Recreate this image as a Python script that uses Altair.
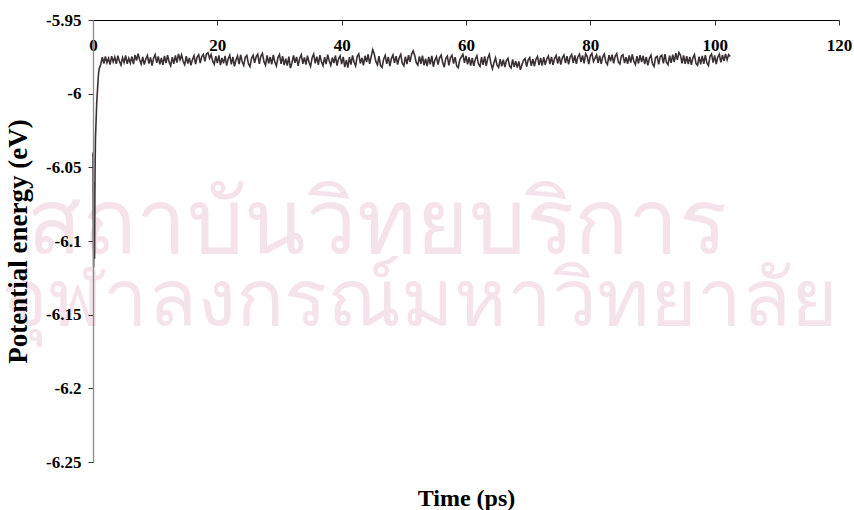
import altair as alt
import numpy as np
import pandas as pd

# Equilibration start: fast relaxation from the initial configuration
time_start = [0.00, 0.05, 0.10, 0.15, 0.20, 0.25, 0.30, 0.35, 0.40, 0.50, 0.60, 0.70, 0.80, 0.90]
energy_start = [-6.040, -6.085, -6.118, -6.095, -6.060, -6.112, -6.070, -6.045, -6.030,
                -6.018, -6.006, -5.999, -5.992, -5.986]

# Production run, sampled every 0.25 ps from 1.0 ps
main_t0 = 1.0
main_dt = 0.25
energy_main = [
    -5.9830, -5.9800, -5.9752, -5.9795, -5.9748, -5.9790, -5.9760, -5.9803, -5.9745, -5.9785,
    -5.9752, -5.9798, -5.9742, -5.9781, -5.9806, -5.9755, -5.9788, -5.9740, -5.9797, -5.9760,
    -5.9792, -5.9748, -5.9800, -5.9738, -5.9775, -5.9728, -5.9770, -5.9799, -5.9750, -5.9802,
    -5.9765, -5.9741, -5.9796, -5.9754, -5.9809, -5.9760, -5.9735, -5.9790, -5.9747, -5.9801,
    -5.9758, -5.9805, -5.9744, -5.9793, -5.9739, -5.9786, -5.9811, -5.9752, -5.9797, -5.9741,
    -5.9789, -5.9730, -5.9770, -5.9737, -5.9782, -5.9804, -5.9746, -5.9795, -5.9757, -5.9808,
    -5.9768, -5.9742, -5.9800, -5.9751, -5.9736, -5.9792, -5.9748, -5.9733, -5.9781, -5.9729,
    -5.9722, -5.9760, -5.9735, -5.9779, -5.9800, -5.9745, -5.9793, -5.9740, -5.9806, -5.9758,
    -5.9794, -5.9743, -5.9810, -5.9763, -5.9738, -5.9801, -5.9750, -5.9814, -5.9772, -5.9744,
    -5.9799, -5.9736, -5.9785, -5.9808, -5.9752, -5.9741, -5.9796, -5.9816, -5.9761, -5.9739,
    -5.9790, -5.9749, -5.9732, -5.9797, -5.9746, -5.9727, -5.9783, -5.9807, -5.9740, -5.9795,
    -5.9751, -5.9801, -5.9737, -5.9786, -5.9812, -5.9755, -5.9734, -5.9798, -5.9745, -5.9806,
    -5.9762, -5.9809, -5.9748, -5.9826, -5.9793, -5.9740, -5.9790, -5.9750, -5.9811, -5.9759,
    -5.9736, -5.9797, -5.9754, -5.9803, -5.9742, -5.9788, -5.9815, -5.9756, -5.9731, -5.9794,
    -5.9749, -5.9805, -5.9739, -5.9784, -5.9810, -5.9753, -5.9799, -5.9735, -5.9778, -5.9807,
    -5.9755, -5.9792, -5.9741, -5.9809, -5.9764, -5.9744, -5.9800, -5.9750, -5.9820, -5.9771,
    -5.9823, -5.9752, -5.9803, -5.9740, -5.9787, -5.9812, -5.9747, -5.9730, -5.9795, -5.9758,
    -5.9808, -5.9743, -5.9785, -5.9734, -5.9797, -5.9749, -5.9702, -5.9733, -5.9781, -5.9804,
    -5.9746, -5.9810, -5.9822, -5.9766, -5.9740, -5.9798, -5.9751, -5.9813, -5.9762, -5.9737,
    -5.9791, -5.9745, -5.9802, -5.9756, -5.9733, -5.9794, -5.9811, -5.9748, -5.9799, -5.9739,
    -5.9784, -5.9731, -5.9710, -5.9741, -5.9790, -5.9806, -5.9747, -5.9797, -5.9742, -5.9808,
    -5.9763, -5.9813, -5.9750, -5.9801, -5.9743, -5.9817, -5.9771, -5.9749, -5.9803, -5.9757,
    -5.9738, -5.9789, -5.9820, -5.9761, -5.9745, -5.9808, -5.9755, -5.9740, -5.9796, -5.9752,
    -5.9812, -5.9824, -5.9770, -5.9750, -5.9732, -5.9791, -5.9744, -5.9800, -5.9753, -5.9809,
    -5.9758, -5.9812, -5.9766, -5.9743, -5.9799, -5.9815, -5.9752, -5.9804, -5.9747, -5.9811,
    -5.9760, -5.9733, -5.9793, -5.9830, -5.9790, -5.9757, -5.9806, -5.9822, -5.9765, -5.9815,
    -5.9770, -5.9819, -5.9775, -5.9760, -5.9812, -5.9826, -5.9768, -5.9818, -5.9779, -5.9823,
    -5.9781, -5.9838, -5.9806, -5.9774, -5.9762, -5.9817, -5.9771, -5.9755, -5.9811, -5.9764,
    -5.9814, -5.9767, -5.9748, -5.9806, -5.9758, -5.9810, -5.9752, -5.9804, -5.9763, -5.9744,
    -5.9799, -5.9750, -5.9805, -5.9761, -5.9741, -5.9796, -5.9747, -5.9803, -5.9756, -5.9738,
    -5.9793, -5.9745, -5.9801, -5.9752, -5.9734, -5.9790, -5.9741, -5.9797, -5.9749, -5.9732,
    -5.9786, -5.9740, -5.9795, -5.9729, -5.9748, -5.9800, -5.9743, -5.9726, -5.9782, -5.9760,
    -5.9737, -5.9790, -5.9742, -5.9798, -5.9750, -5.9731, -5.9787, -5.9803, -5.9739, -5.9780,
    -5.9735, -5.9794, -5.9745, -5.9728, -5.9784, -5.9799, -5.9744, -5.9736, -5.9793, -5.9752,
    -5.9798, -5.9741, -5.9789, -5.9733, -5.9781, -5.9802, -5.9746, -5.9795, -5.9738, -5.9786,
    -5.9743, -5.9800, -5.9751, -5.9808, -5.9760, -5.9739, -5.9797, -5.9815, -5.9755, -5.9747,
    -5.9801, -5.9749, -5.9740, -5.9795, -5.9732, -5.9788, -5.9803, -5.9742, -5.9791, -5.9736,
    -5.9785, -5.9725, -5.9770, -5.9720, -5.9739, -5.9794, -5.9741, -5.9798, -5.9746, -5.9800,
    -5.9750, -5.9804, -5.9757, -5.9735, -5.9796, -5.9807, -5.9748, -5.9801, -5.9744, -5.9797,
    -5.9739, -5.9792, -5.9809, -5.9747, -5.9731, -5.9789, -5.9740, -5.9800, -5.9752, -5.9733,
    -5.9788, -5.9738, -5.9779, -5.9730, -5.9770, -5.9735, -5.9748,
]

x_ticks = [0, 20, 40, 60, 80, 100, 120]
y_ticks = [-6.25, -6.2, -6.15, -6.1, -6.05, -6.0, -5.95]

time_main = list(main_t0 + main_dt * np.arange(len(energy_main)))
df = pd.DataFrame({
    "t": list(time_start) + time_main,
    "e": list(energy_start) + energy_main,
})

W, H = 746, 442
FONT = "Liberation Serif"

# Pale watermark text behind the plot (pixel positions inside the plot area)
wm_text = ["สถาบันวิทยบริการ", "จุฬาลงกรณ์มหาวิทยาลัย"]
wm_px = [284.0, 326.0]
wm_py = [206.0, 282.0]
wm_size = [90, 80]
wm = pd.DataFrame({"txt": wm_text, "px": wm_px, "py": wm_py, "fs": wm_size})
watermark = alt.Chart(wm).mark_text(
    font="Noto Sans", color="#f5e3eb", align="center", baseline="middle"
).encode(
    x=alt.X("px:Q", scale=None, axis=None),
    y=alt.Y("py:Q", scale=None, axis=None),
    size=alt.Size("fs:Q", scale=None, legend=None),
    text="txt:N",
)

line = alt.Chart(df).mark_line(color="#3a3034", strokeWidth=1.6).encode(
    x=alt.X(
        "t:Q",
        scale=alt.Scale(domain=[0, 120], nice=False, zero=False),
        axis=alt.Axis(
            orient="bottom", offset=-H, values=x_ticks, grid=False, zindex=1,
            domainColor="#000000", domainWidth=1, tickColor="#333333", tickSize=5,
            labelFont=FONT, labelFontWeight="bold", labelFontSize=17, labelColor="#000000",
            labelPadding=12, labelFlush=False, labelOverlap=False,
            title="Time (ps)", titleFont=FONT, titleFontWeight="bold", titleFontSize=24,
            titleColor="#000000", titleX=W / 2, titleY=478, titleBaseline="middle",
            titleAnchor="middle",
        ),
    ),
    y=alt.Y(
        "e:Q",
        scale=alt.Scale(domain=[-6.25, -5.95], nice=False, zero=False),
        axis=alt.Axis(
            values=y_ticks, grid=False, zindex=1, labelExpr="'' + datum.value",
            domainColor="#8a8a8a", domainWidth=1.3, tickColor="#333333", tickSize=5,
            labelFont=FONT, labelFontWeight="bold", labelFontSize=17, labelColor="#000000",
            labelPadding=7, labelFlush=False, labelOverlap=False,
            title="Potential energy (eV)", titleFont=FONT, titleFontWeight="bold",
            titleFontSize=27, titleColor="#000000", titleAngle=270,
            titleX=-75, titleY=H / 2, titleBaseline="middle", titleAnchor="middle",
        ),
    ),
)

chart = alt.layer(watermark, line).properties(
    width=W,
    height=H,
    autosize=alt.AutoSizeParams(type="none"),
    padding={"left": 93, "top": 20, "right": 15, "bottom": 48},
    background="#ffffff",
).configure_view(stroke=None)

chart.save("out.html", embed_options={"renderer": "svg", "actions": False})
